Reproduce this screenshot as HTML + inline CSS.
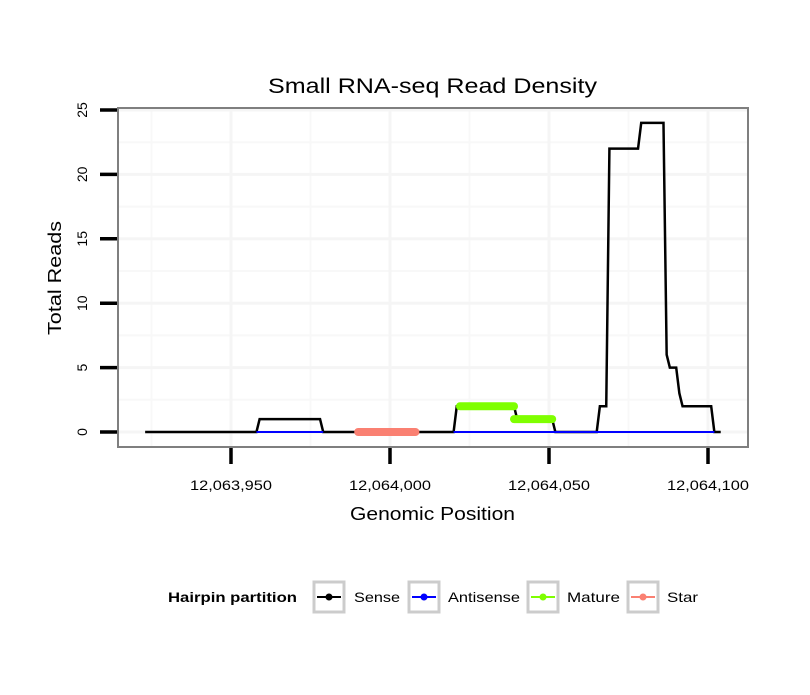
<!DOCTYPE html>
<html><head><meta charset="utf-8"><style>
body{margin:0;background:#fff;font-family:"Liberation Sans",sans-serif}
</style></head><body>
<svg id="chart" width="810" height="690" xmlns="http://www.w3.org/2000/svg" font-family="Liberation Sans, sans-serif">
<text x="268" y="93" font-size="21" textLength="329" lengthAdjust="spacingAndGlyphs">Small RNA-seq Read Density</text>
<g id="grid"></g>
<g id="series"></g>
<rect x="118" y="108" width="630" height="339" fill="none" stroke="#7f7f7f" stroke-width="2"/>
<g id="axes"></g>
<text x="350" y="520" font-size="18" textLength="165" lengthAdjust="spacingAndGlyphs">Genomic Position</text>
<text transform="translate(61,278) rotate(-90)" font-size="18" text-anchor="middle" textLength="114" lengthAdjust="spacingAndGlyphs">Total Reads</text>
<g font-size="14">
<text x="168" y="602" font-weight="bold" textLength="129" lengthAdjust="spacingAndGlyphs">Hairpin partition</text>
<g><rect x="314" y="582" width="30" height="30" fill="#fff" stroke="#ccc" stroke-width="3"/><line x1="317" y1="597" x2="341" y2="597" stroke="#000" stroke-width="2"/><circle cx="329" cy="597" r="3.5" fill="#000"/><text x="354" y="602" textLength="46" lengthAdjust="spacingAndGlyphs">Sense</text></g>
<g><rect x="409" y="582" width="30" height="30" fill="#fff" stroke="#ccc" stroke-width="3"/><line x1="412" y1="597" x2="436" y2="597" stroke="#0000ff" stroke-width="2"/><circle cx="424" cy="597" r="3.5" fill="#0000ff"/><text x="448" y="602" textLength="72" lengthAdjust="spacingAndGlyphs">Antisense</text></g>
<g><rect x="528" y="582" width="30" height="30" fill="#fff" stroke="#ccc" stroke-width="3"/><line x1="531" y1="597" x2="555" y2="597" stroke="#7fff00" stroke-width="2"/><circle cx="543" cy="597" r="3.5" fill="#7fff00"/><text x="567" y="602" textLength="53" lengthAdjust="spacingAndGlyphs">Mature</text></g>
<g><rect x="628" y="582" width="30" height="30" fill="#fff" stroke="#ccc" stroke-width="3"/><line x1="631" y1="597" x2="655" y2="597" stroke="#fa8072" stroke-width="2"/><circle cx="643" cy="597" r="3.5" fill="#fa8072"/><text x="667" y="602" textLength="31" lengthAdjust="spacingAndGlyphs">Star</text></g>
</g>
</svg>
<script>
const senseX=[12063923,12063958,12063959,12063978,12063979,12064020,12064021,12064039,12064040,12064051,12064052,12064065,12064066,12064068,12064069,12064078,12064079,12064086,12064087,12064088,12064090,12064091,12064092,12064101,12064102,12064104];
const senseY=[0,0,1,1,0,0,2,2,1,1,0,0,2,2,22,22,24,24,6,5,5,3,2,2,0,0];
const antisenseX=[[12063958,12063979],[12064020,12064102]];
const matureX=[[12064022,12064039],[12064039,12064051]];
const matureY=[2,1];
const starX=[12063990,12064008];
const starY=0;
const xTicks=[12063950,12064000,12064050,12064100];
const xTickLabels=["12,063,950","12,064,000","12,064,050","12,064,100"];
const yTicks=[0,5,10,15,20,25];
const NS="http://www.w3.org/2000/svg";
const xs=p=>390+(p-12064000)*3.18;
const ys=v=>432-v*12.88;
function mk(tag,attrs,parent){const e=document.createElementNS(NS,tag);for(const k in attrs)e.setAttribute(k,attrs[k]);parent.appendChild(e);return e;}
const grid=document.getElementById('grid'),ser=document.getElementById('series'),ax=document.getElementById('axes');
mk('rect',{x:118,y:108,width:630,height:339,fill:'#fff'},grid);
for(let v=2.5;v<=27.5;v+=5){const y=ys(v);if(y>108)mk('line',{x1:118,x2:748,y1:y,y2:y,stroke:'#f8f8f8','stroke-width':2},grid);}
for(let p=12063925;p<=12064075;p+=50)mk('line',{x1:xs(p),x2:xs(p),y1:108,y2:447,stroke:'#f8f8f8','stroke-width':2},grid);
yTicks.forEach(v=>mk('line',{x1:118,x2:748,y1:ys(v),y2:ys(v),stroke:'#f5f5f5','stroke-width':3},grid));
xTicks.forEach(p=>mk('line',{x1:xs(p),x2:xs(p),y1:108,y2:447,stroke:'#f5f5f5','stroke-width':3},grid));
let d=senseX.map((p,i)=>(i?'L':'M')+xs(p)+','+ys(senseY[i])).join(' ');
const sl=mk('path',{d:d,fill:'none',stroke:'#000','stroke-width':2.5},ser);


antisenseX.forEach(s=>{const l=mk('line',{x1:xs(s[0]),x2:xs(s[1]),y1:ys(0),y2:ys(0),stroke:'#0000ff','stroke-width':2},ser);

});
matureX.forEach((s,i)=>{const l=mk('line',{x1:xs(s[0]),x2:xs(s[1]),y1:ys(matureY[i]),y2:ys(matureY[i]),stroke:'#7fff00','stroke-width':8,'stroke-linecap':'round'},ser);

});
const st=mk('line',{x1:xs(starX[0]),x2:xs(starX[1]),y1:ys(starY),y2:ys(starY),stroke:'#fa8072','stroke-width':8,'stroke-linecap':'round'},ser);


xTicks.forEach((p,i)=>{mk('line',{x1:xs(p),x2:xs(p),y1:448,y2:464,stroke:'#000','stroke-width':3.5},ax);
const t=mk('text',{x:xs(p)-41,y:490,'font-size':14,textLength:82,lengthAdjust:'spacingAndGlyphs'},ax);t.textContent=xTickLabels[i];

});
yTicks.forEach(v=>{mk('line',{x1:100,x2:117,y1:ys(v),y2:ys(v),stroke:'#000','stroke-width':3.5},ax);
const t=mk('text',{transform:`translate(87,${ys(v)}) rotate(-90)`,'font-size':14,'text-anchor':'middle'},ax);t.textContent=v;

});
</script>
</body></html>
